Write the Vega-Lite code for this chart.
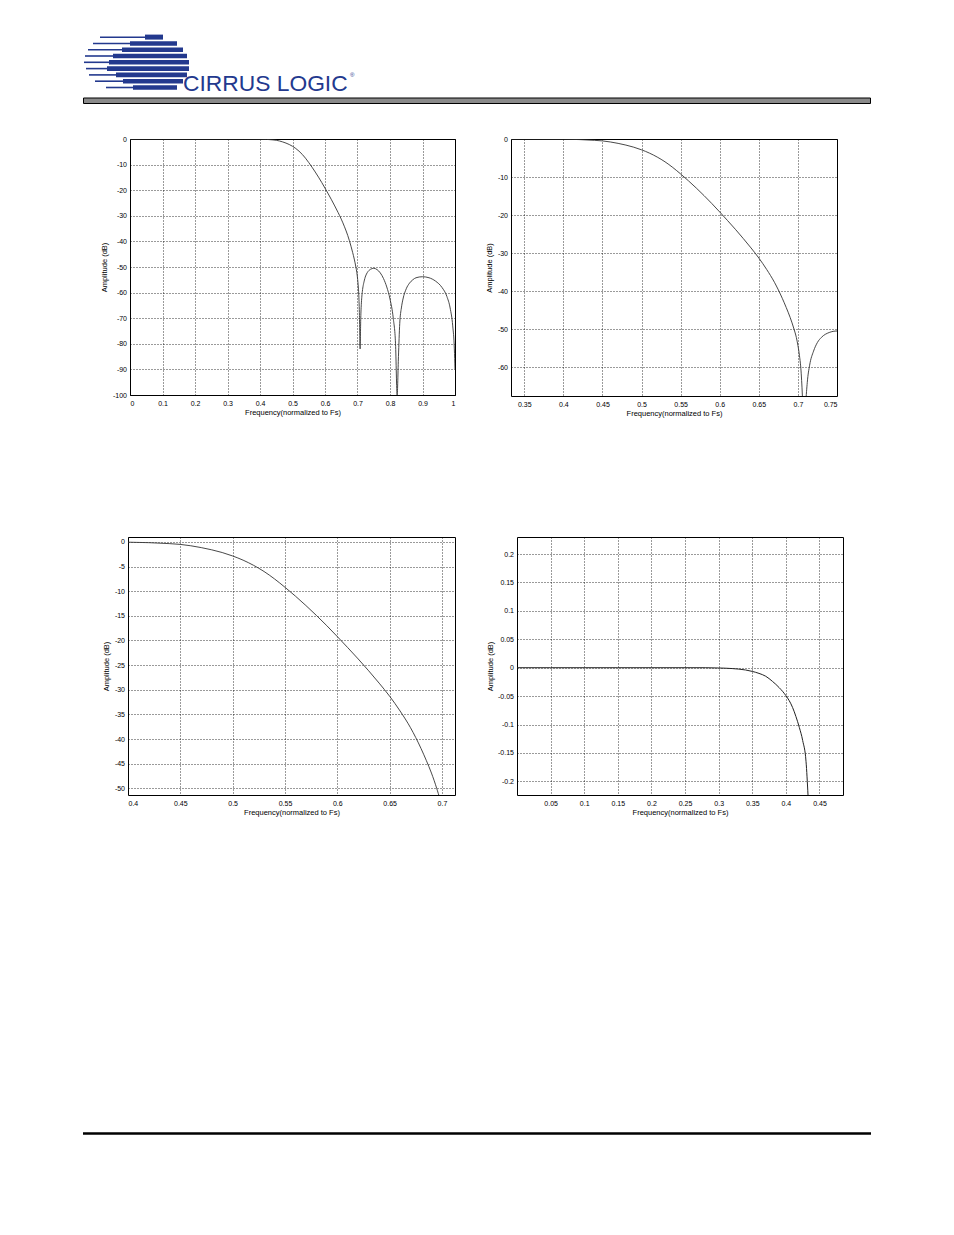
{
  "$schema": "https://vega.github.io/schema/vega-lite/v6.json",
  "padding": 0,
  "spacing": 0,
  "background": "white",
  "config": {
    "view": {"stroke": null},
    "locale": {"number": {"decimal": ".", "thousands": ",", "grouping": [3], "currency": ["$", ""], "minus": "-"}},
    "axis": {
      "labelFont": "Liberation Sans", "titleFont": "Liberation Sans",
      "labelFontSize": 7, "titleFontSize": 7.5, "titleFontWeight": "normal",
      "labelColor": "#000", "titleColor": "#000",
      "ticks": false, "domain": false, "grid": true,
      "gridColor": "#000", "gridDash": [1, 2], "gridWidth": 0.8, "gridOpacity": 1
    },
    "axisY": {"labelPadding": 3.5, "titlePadding": 3.5},
    "axisX": {"labelPadding": 4, "titlePadding": 2}
  },
  "datasets": {
    "resp": [
      {"f": 0, "db": 0}, {"f": 0.1, "db": 0}, {"f": 0.2, "db": 0}, {"f": 0.3, "db": 0}, {"f": 0.35, "db": 0},
      {"f": 0.4, "db": -0.05}, {"f": 0.42, "db": -0.15}, {"f": 0.44, "db": -0.35}, {"f": 0.45, "db": -0.5},
      {"f": 0.46, "db": -0.78}, {"f": 0.47, "db": -1.15}, {"f": 0.48, "db": -1.6}, {"f": 0.49, "db": -2.15},
      {"f": 0.5, "db": -2.85}, {"f": 0.51, "db": -3.7}, {"f": 0.52, "db": -4.75}, {"f": 0.53, "db": -6.0},
      {"f": 0.54, "db": -7.5}, {"f": 0.55, "db": -9.2}, {"f": 0.56, "db": -11.0}, {"f": 0.57, "db": -12.9},
      {"f": 0.58, "db": -14.9}, {"f": 0.59, "db": -17.0}, {"f": 0.6, "db": -19.2}, {"f": 0.61, "db": -21.45},
      {"f": 0.62, "db": -23.75}, {"f": 0.63, "db": -26.15}, {"f": 0.64, "db": -28.65}, {"f": 0.65, "db": -31.3},
      {"f": 0.66, "db": -34.3}, {"f": 0.67, "db": -37.7}, {"f": 0.675, "db": -39.7}, {"f": 0.68, "db": -41.9},
      {"f": 0.685, "db": -44.3}, {"f": 0.69, "db": -46.9}, {"f": 0.695, "db": -50.0}, {"f": 0.698, "db": -52.2},
      {"f": 0.7, "db": -54.3}, {"f": 0.702, "db": -57}, {"f": 0.704, "db": -61}, {"f": 0.706, "db": -69},
      {"f": 0.708, "db": -82}, {"f": 0.71, "db": -70}, {"f": 0.712, "db": -64}, {"f": 0.715, "db": -59.5},
      {"f": 0.72, "db": -55.8}, {"f": 0.725, "db": -53.5}, {"f": 0.73, "db": -52.2}, {"f": 0.74, "db": -50.9},
      {"f": 0.75, "db": -50.5}, {"f": 0.76, "db": -51.0}, {"f": 0.77, "db": -52.3}, {"f": 0.78, "db": -54.5},
      {"f": 0.79, "db": -57.8}, {"f": 0.8, "db": -62.5}, {"f": 0.81, "db": -70}, {"f": 0.817, "db": -80},
      {"f": 0.822, "db": -100}, {"f": 0.826, "db": -85}, {"f": 0.83, "db": -72}, {"f": 0.835, "db": -66},
      {"f": 0.84, "db": -62.5}, {"f": 0.85, "db": -58.5}, {"f": 0.86, "db": -56.3}, {"f": 0.87, "db": -55},
      {"f": 0.88, "db": -54.2}, {"f": 0.9, "db": -53.8}, {"f": 0.92, "db": -54.2}, {"f": 0.94, "db": -55.5},
      {"f": 0.96, "db": -58}, {"f": 0.975, "db": -61.5}, {"f": 0.985, "db": -66}, {"f": 0.993, "db": -73},
      {"f": 0.998, "db": -82}, {"f": 1.0, "db": -90}
    ],
    "ripple": [
      {"f": 0, "db": 0}, {"f": 0.05, "db": 0}, {"f": 0.1, "db": 0}, {"f": 0.15, "db": 0}, {"f": 0.2, "db": 0},
      {"f": 0.25, "db": 0}, {"f": 0.28, "db": 0}, {"f": 0.3, "db": -0.0005}, {"f": 0.32, "db": -0.0015},
      {"f": 0.34, "db": -0.004}, {"f": 0.35, "db": -0.0065}, {"f": 0.36, "db": -0.01}, {"f": 0.37, "db": -0.015},
      {"f": 0.38, "db": -0.024}, {"f": 0.39, "db": -0.035}, {"f": 0.4, "db": -0.049}, {"f": 0.405, "db": -0.058},
      {"f": 0.41, "db": -0.07}, {"f": 0.415, "db": -0.086}, {"f": 0.42, "db": -0.105}, {"f": 0.425, "db": -0.128},
      {"f": 0.43, "db": -0.165}, {"f": 0.433, "db": -0.225}
    ],
    "stripes": [
      {"y": 37.3, "thinStart": 100, "thinEnd": 145, "barEnd": 163, "yTop": 34.6, "yBottom": 39.6},
      {"y": 43.5, "thinStart": 93, "thinEnd": 130, "barEnd": 177, "yTop": 41.2, "yBottom": 45.8},
      {"y": 49.8, "thinStart": 88, "thinEnd": 122, "barEnd": 183, "yTop": 47.5, "yBottom": 52.1},
      {"y": 56.0, "thinStart": 85, "thinEnd": 113, "barEnd": 187, "yTop": 53.7, "yBottom": 58.3},
      {"y": 62.3, "thinStart": 84, "thinEnd": 109, "barEnd": 189, "yTop": 60.0, "yBottom": 64.6},
      {"y": 68.6, "thinStart": 86, "thinEnd": 107, "barEnd": 189, "yTop": 66.3, "yBottom": 70.9},
      {"y": 74.9, "thinStart": 89, "thinEnd": 116, "barEnd": 187, "yTop": 72.6, "yBottom": 77.2},
      {"y": 81.2, "thinStart": 95, "thinEnd": 123, "barEnd": 183, "yTop": 78.9, "yBottom": 83.5},
      {"y": 87.5, "thinStart": 106, "thinEnd": 133, "barEnd": 177, "yTop": 85.2, "yBottom": 89.8}
    ]
  },
  "vconcat": [
    {
      "width": 954,
      "height": 133.5,
      "view": {"fill": "white", "stroke": null},
      "layer": [
        {
          "data": {"name": "stripes"},
          "mark": {"type": "rule", "color": "#23398e", "strokeWidth": 1.6},
          "encoding": {
            "x": {"field": "thinStart", "type": "quantitative", "scale": {"domain": [0, 954], "nice": false, "zero": false}, "axis": null},
            "x2": {"field": "thinEnd"},
            "y": {"field": "y", "type": "quantitative", "scale": {"domain": [0, 133.5], "reverse": true, "nice": false, "zero": false}, "axis": null}
          }
        },
        {
          "data": {"name": "stripes"},
          "mark": {"type": "rect", "color": "#23398e"},
          "encoding": {
            "x": {"field": "thinEnd", "type": "quantitative"},
            "x2": {"field": "barEnd"},
            "y": {"field": "yTop", "type": "quantitative"},
            "y2": {"field": "yBottom"}
          }
        },
        {
          "data": {"values": [{}]},
          "mark": {"type": "text", "text": "CIRRUS LOGIC", "font": "Liberation Sans", "fontSize": 22.8, "color": "#23398e", "align": "left", "baseline": "alphabetic"},
          "encoding": {
            "x": {"datum": 183, "type": "quantitative"},
            "y": {"datum": 91, "type": "quantitative"}
          }
        },
        {
          "data": {"values": [{}]},
          "mark": {"type": "text", "text": "®", "font": "Liberation Sans", "fontSize": 6, "color": "#23398e", "align": "left", "baseline": "middle"},
          "encoding": {
            "x": {"datum": 350, "type": "quantitative"},
            "y": {"datum": 75, "type": "quantitative"}
          }
        },
        {
          "data": {"values": [{}]},
          "mark": {"type": "rect", "fill": "#8a8a8a", "stroke": "#000", "strokeWidth": 1},
          "encoding": {
            "x": {"datum": 83.5, "type": "quantitative"},
            "x2": {"datum": 870.5},
            "y": {"datum": 98, "type": "quantitative"},
            "y2": {"datum": 103.5}
          }
        }
      ]
    },
    {
      "hconcat": [
        {"width": 74, "height": 397, "view": {"fill": "white", "stroke": null}, "data": {"values": []}, "mark": "point"},
        {
          "width": 325, "height": 256,
          "view": {"stroke": "black", "strokeWidth": 1},
          "data": {"name": "resp"},
          "mark": {"type": "line", "color": "#333", "strokeWidth": 0.9, "clip": true, "interpolate": "monotone"},
          "encoding": {
            "x": {"field": "f", "type": "quantitative", "scale": {"domain": [0, 1], "nice": false, "zero": false},
                  "axis": {"values": [0, 0.1, 0.2, 0.3, 0.4, 0.5, 0.6, 0.7, 0.8, 0.9, 1], "format": "~f", "title": "Frequency(normalized to Fs)"}},
            "y": {"field": "db", "type": "quantitative", "scale": {"domain": [-100, 0], "nice": false, "zero": false},
                  "axis": {"values": [0, -10, -20, -30, -40, -50, -60, -70, -80, -90, -100], "format": "~f", "title": "Amplitude (dB)"}}
          }
        },
        {
          "width": 326, "height": 257,
          "view": {"stroke": "black", "strokeWidth": 1},
          "data": {"name": "resp"},
          "mark": {"type": "line", "color": "#333", "strokeWidth": 0.9, "clip": true, "interpolate": "monotone"},
          "encoding": {
            "x": {"field": "f", "type": "quantitative", "scale": {"domain": [0.333, 0.75], "nice": false, "zero": false},
                  "axis": {"values": [0.35, 0.4, 0.45, 0.5, 0.55, 0.6, 0.65, 0.7, 0.75], "format": "~f", "title": "Frequency(normalized to Fs)"}},
            "y": {"field": "db", "type": "quantitative", "scale": {"domain": [-67.6, 0], "nice": false, "zero": false},
                  "axis": {"values": [0, -10, -20, -30, -40, -50, -60], "format": "~f", "title": "Amplitude (dB)"}}
          }
        }
      ],
      "spacing": 56,
      "bounds": "flush"
    },
    {
      "hconcat": [
        {"width": 66, "height": 586, "view": {"fill": "white", "stroke": null}, "data": {"values": []}, "mark": "point"},
        {
          "width": 327, "height": 258,
          "view": {"stroke": "black", "strokeWidth": 1},
          "data": {"name": "resp"},
          "mark": {"type": "line", "color": "#333", "strokeWidth": 0.9, "clip": true, "interpolate": "monotone"},
          "encoding": {
            "x": {"field": "f", "type": "quantitative", "scale": {"domain": [0.4, 0.7125], "nice": false, "zero": false},
                  "axis": {"values": [0.4, 0.45, 0.5, 0.55, 0.6, 0.65, 0.7], "format": "~f", "title": "Frequency(normalized to Fs)"}},
            "y": {"field": "db", "type": "quantitative", "scale": {"domain": [-51.35, 1], "nice": false, "zero": false},
                  "axis": {"values": [0, -5, -10, -15, -20, -25, -30, -35, -40, -45, -50], "format": "~f", "title": "Amplitude (dB)"}}
          }
        },
        {
          "width": 326, "height": 258,
          "view": {"stroke": "black", "strokeWidth": 1},
          "data": {"name": "ripple"},
          "mark": {"type": "line", "color": "#222", "strokeWidth": 1, "clip": true, "interpolate": "monotone"},
          "encoding": {
            "x": {"field": "f", "type": "quantitative", "scale": {"domain": [0, 0.485], "nice": false, "zero": false},
                  "axis": {"values": [0.05, 0.1, 0.15, 0.2, 0.25, 0.3, 0.35, 0.4, 0.45], "format": "~f", "title": "Frequency(normalized to Fs)"}},
            "y": {"field": "db", "type": "quantitative", "scale": {"domain": [-0.224, 0.23], "nice": false, "zero": false},
                  "axis": {"values": [0.2, 0.15, 0.1, 0.05, 0, -0.05, -0.1, -0.15, -0.2], "format": "~f", "title": "Amplitude (dB)"}}
          }
        }
      ],
      "spacing": 62,
      "bounds": "flush"
    },
    {
      "width": 954,
      "height": 113,
      "view": {"fill": "white", "stroke": null},
      "data": {"values": [{}]},
      "mark": {"type": "rule", "color": "black", "strokeWidth": 2.5},
      "encoding": {
        "x": {"datum": 83, "type": "quantitative", "scale": {"domain": [0, 954], "nice": false, "zero": false}, "axis": null},
        "x2": {"datum": 871},
        "y": {"datum": 10.5, "type": "quantitative", "scale": {"domain": [0, 113], "reverse": true, "nice": false, "zero": false}, "axis": null}
      }
    }
  ]
}
